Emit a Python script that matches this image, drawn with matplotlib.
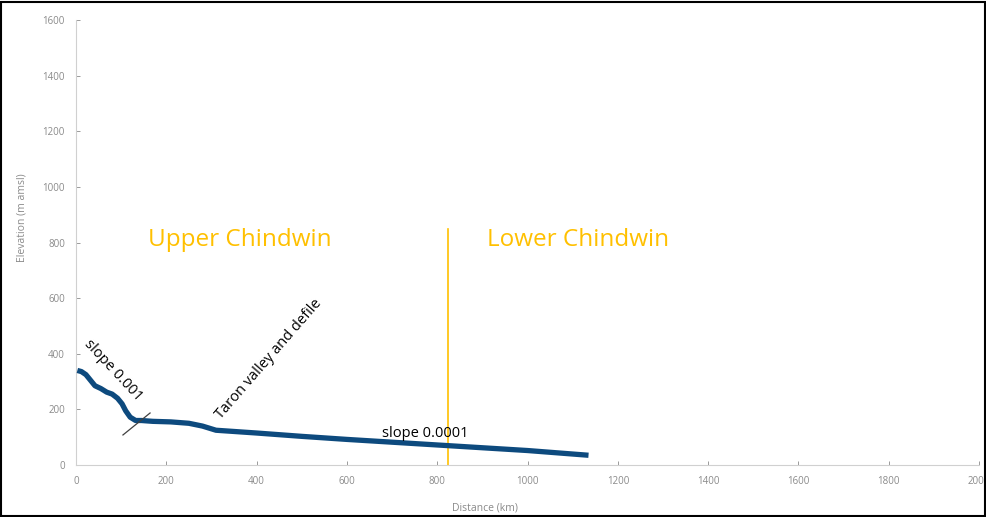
import matplotlib
matplotlib.use("Agg")
import matplotlib.pyplot as plt
from matplotlib.patches import Rectangle

# Chindwin long profile
distance_km = [3, 12, 22, 32, 42, 55, 68, 80, 92, 102, 110, 120, 132, 145, 170,
               210, 250, 280, 310, 400, 500, 600, 700, 800, 900, 1000, 1135]
elevation_m = [340, 336, 325, 305, 285, 275, 262, 255, 240, 220, 195, 172, 160, 160, 157,
               155, 150, 140, 125, 115, 103, 92, 82, 72, 62, 52, 35]

boundary_km = 824
boundary_top = 850
break_x = [104, 164]
break_y = [108, 187]

x_ticks = [0, 200, 400, 600, 800, 1000, 1200, 1400, 1600, 1800, 2000]
y_ticks = [0, 200, 400, 600, 800, 1000, 1200, 1400, 1600]

gold = "#FFC000"
grey = "#8a8a8a"

plt.rcParams["font.family"] = ["Open Sans", "DejaVu Sans"]

fig = plt.figure(figsize=(9.87, 5.17), dpi=100)
ax = fig.add_axes([0.077, 0.1006, 0.915, 0.8604])

ax.plot(distance_km, elevation_m, color="#0d4a7e", lw=3.8, solid_capstyle="butt", zorder=3)
ax.plot([boundary_km, boundary_km], [0, boundary_top], color=gold, lw=1.2, zorder=2)
ax.plot(break_x, break_y, color="#404040", lw=0.9, zorder=4)

ax.text(363, 810, "Upper Chindwin", color=gold, fontsize=17.5, ha="center", va="center")
ax.text(1111, 810, "Lower Chindwin", color=gold, fontsize=17.5, ha="center", va="center")
ax.text(82, 340, "slope 0.001", rotation=-47, fontsize=10.5, ha="center", va="center",
        rotation_mode="anchor")
ax.text(428, 380, "Taron valley and defile", rotation=49, fontsize=10.5, ha="center",
        va="center", rotation_mode="anchor")
ax.text(773, 115, "slope 0.0001", fontsize=10.5, ha="center", va="center")

ax.set_xlim(0, 2000)
ax.set_ylim(0, 1600)
ax.set_xticks(x_ticks)
ax.set_yticks(y_ticks)
ax.tick_params(colors=grey, labelsize=7, length=3, width=0.6, direction="in")
ax.tick_params(axis="x", pad=8)
ax.tick_params(axis="y", pad=8)
for side in ["top", "right"]:
    ax.spines[side].set_visible(False)
for side in ["left", "bottom"]:
    ax.spines[side].set_color("#d0d0d0")
    ax.spines[side].set_linewidth(0.8)

ax.set_xlabel("Distance (km)", color=grey, fontsize=7.5)
ax.set_ylabel("Elevation (m amsl)", color=grey, fontsize=7.5)
ax.xaxis.set_label_coords(0.453, -0.085)
ax.yaxis.set_label_coords(-0.054, 0.557)

# frame around the whole figure
fig.patches.append(Rectangle((0.001, 0.002), 0.997, 0.995, transform=fig.transFigure,
                             fill=False, edgecolor="black", lw=1.5))

fig.savefig("out.png", dpi=100)
